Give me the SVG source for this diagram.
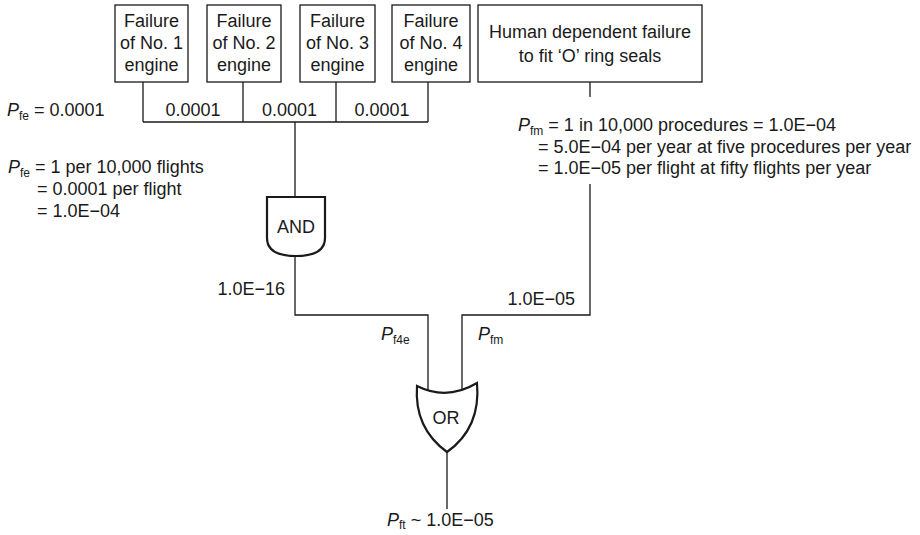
<svg xmlns="http://www.w3.org/2000/svg" width="920" height="535" viewBox="0 0 920 535">
<style>
text{font-family:"Liberation Sans",Arial,sans-serif;font-size:18px;fill:#1a1a1a}
.c{text-anchor:middle}
.r{text-anchor:end}
.i{font-style:italic}
.s{font-size:12px}
.box{fill:#fff;stroke:#1a1a1a;stroke-width:1.3}
.gate{fill:#fff;stroke:#1a1a1a;stroke-width:2.2}
.ln{fill:none;stroke:#1a1a1a;stroke-width:1.3}
</style>
<rect width="920" height="535" fill="#fff"/>
<g id="connectors">
<path class="ln" d="M143,82V122M243,82V122M336,82V122M428,82V122M143,122H428M295,122V198"/>
<path class="ln" d="M295,255V315H428V392"/>
<path class="ln" d="M590,82V97M590,184V315H462V392"/>
<path class="ln" d="M447,451V509"/>
</g>
<g id="engine1">
<rect class="box" x="115" y="5" width="73" height="77"/>
<text class="c" x="151.5" y="27">Failure</text>
<text class="c" x="151.5" y="49">of No. 1</text>
<text class="c" x="151.5" y="71">engine</text>
</g>
<g id="engine2">
<rect class="box" x="207" y="5" width="74" height="77"/>
<text class="c" x="244" y="27">Failure</text>
<text class="c" x="244" y="49">of No. 2</text>
<text class="c" x="244" y="71">engine</text>
</g>
<g id="engine3">
<rect class="box" x="300" y="5" width="75" height="77"/>
<text class="c" x="337.5" y="27">Failure</text>
<text class="c" x="337.5" y="49">of No. 3</text>
<text class="c" x="337.5" y="71">engine</text>
</g>
<g id="engine4">
<rect class="box" x="392" y="5" width="78" height="77"/>
<text class="c" x="431" y="27">Failure</text>
<text class="c" x="431" y="49">of No. 4</text>
<text class="c" x="431" y="71">engine</text>
</g>
<g id="human">
<rect class="box" x="478" y="5" width="224" height="77"/>
<text class="c" x="590" y="38">Human dependent failure</text>
<text class="c" x="590" y="62">to fit ‘O’ ring seals</text>
</g>
<g id="labels">
<text x="7" y="116"><tspan class="i">P</tspan><tspan class="s" dy="4">fe</tspan><tspan dy="-4"> = 0.0001</tspan></text>
<text class="c" x="193" y="116">0.0001</text>
<text class="c" x="289.5" y="116">0.0001</text>
<text class="c" x="382" y="116">0.0001</text>
<text x="8" y="173"><tspan class="i">P</tspan><tspan class="s" dy="4">fe</tspan><tspan dy="-4"> = 1 per 10,000 flights</tspan></text>
<text x="37" y="195">= 0.0001 per flight</text>
<text x="37" y="217">= 1.0E−04</text>
<text x="518" y="131"><tspan class="i">P</tspan><tspan class="s" dy="4">fm</tspan><tspan dy="-4"> = 1 in 10,000 procedures = 1.0E−04</tspan></text>
<text x="538" y="153">= 5.0E−04 per year at five procedures per year</text>
<text x="538" y="174">= 1.0E−05 per flight at fifty flights per year</text>
<text class="r" x="285" y="295">1.0E−16</text>
<text class="r" x="575" y="305">1.0E−05</text>
<text x="381" y="340"><tspan class="i">P</tspan><tspan class="s" dy="4">f4e</tspan></text>
<text x="478" y="340"><tspan class="i">P</tspan><tspan class="s" dy="4">fm</tspan></text>
<text x="387" y="526"><tspan class="i">P</tspan><tspan class="s" dy="3">ft</tspan><tspan dy="-3"> ~ 1.0E−05</tspan></text>
</g>
<g id="and-gate">
<path class="gate" d="M267,197H325V238Q325,256 296,256Q267,256 267,238Z"/>
<text class="c" x="296" y="233">AND</text>
</g>
<g id="or-gate">
<path class="gate" d="M417,386Q447,401 477,383Q481,428 447,452Q414,428 417,386Z"/>
<text class="c" x="446" y="424">OR</text>
</g>
</svg>
